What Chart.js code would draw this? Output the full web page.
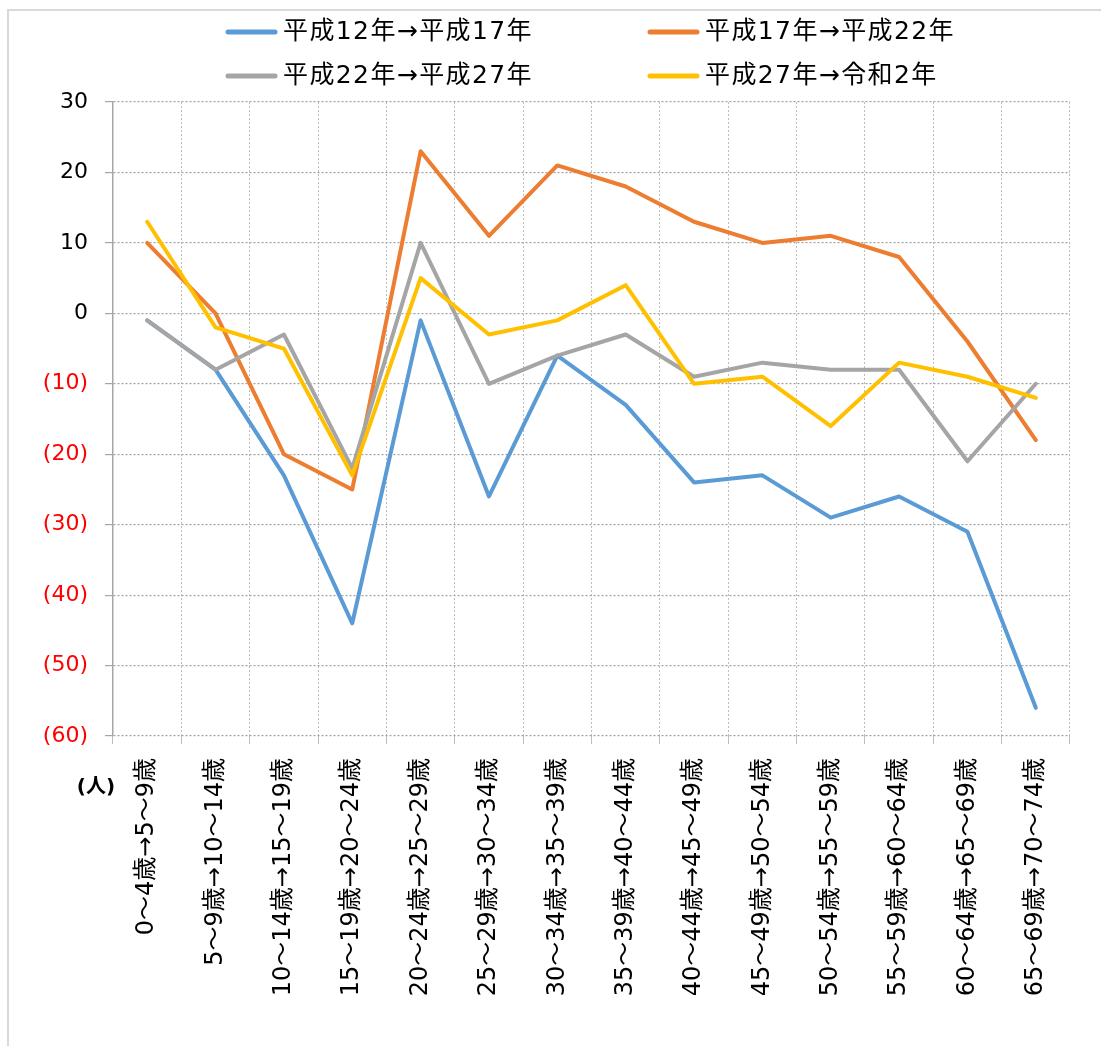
<!DOCTYPE html>
<html>
<head>
<meta charset="utf-8">
<script src="https://cdn.jsdelivr.net/npm/chart.js@4"></script>
<style>
  html, body { margin: 0; padding: 0; background: #fff; }
  #wrap { position: relative; width: 1101px; height: 1046px; overflow: hidden; }
  #frame { position: absolute; left: 7px; top: 9px; width: 1200px; height: 1200px;
           border-left: 2px solid #d9d9d9; border-top: 2px solid #d9d9d9; pointer-events: none; }
  canvas { position: absolute; left: 0; top: 0; }
</style>
</head>
<body>
<div id="wrap">
  <canvas id="myChart" width="1101" height="1046"></canvas>
  <div id="frame"></div>
</div>
<script>
    // age groups (x axis)
    const ageLabels = [
        "0～4歳→5～9歳", "5～9歳→10～14歳", "10～14歳→15～19歳", "15～19歳→20～24歳",
        "20～24歳→25～29歳", "25～29歳→30～34歳", "30～34歳→35～39歳", "35～39歳→40～44歳",
        "40～44歳→45～49歳", "45～49歳→50～54歳", "50～54歳→55～59歳", "55～59歳→60～64歳",
        "60～64歳→65～69歳", "65～69歳→70～74歳"
    ];

    // series names
    const seriesNames = ["平成12年→平成17年", "平成17年→平成22年", "平成22年→平成27年", "平成27年→令和2年"];
    const seriesColors = ["#5B9BD5", "#ED7D31", "#A5A5A5", "#FFC000"];

    // values (人)
    const h12to17 = [-1, -8, -23, -44, -1, -26, -6, -13, -24, -23, -29, -26, -31, -56];
    const h17to22 = [10, 0, -20, -25, 23, 11, 21, 18, 13, 10, 11, 8, -4, -18];
    const h22to27 = [-1, -8, -3, -22, 10, -10, -6, -3, -9, -7, -8, -8, -21, -10];
    const h27toR2 = [13, -2, -5, -23, 5, -3, -1, 4, -10, -9, -16, -7, -9, -12];

    // y axis range
    const yMin = -60, yMax = 30, yStep = 10;
    const unitLabel = "(人)";

    const fontFamily = "'DejaVu Sans', 'Noto Sans CJK JP', sans-serif";
    Chart.defaults.font.family = fontFamily;

    const allSeries = [h12to17, h17to22, h22to27, h27toR2];

    let datasets = allSeries.map((vals, i) => ({
        label: seriesNames[i],
        data: vals,
        borderColor: seriesColors[i],
        backgroundColor: seriesColors[i],
        borderWidth: 4,
        pointRadius: 0,
        tension: 0,
        borderCapStyle: "round",
        borderJoinStyle: "round",
        order: allSeries.length - i   // later series on top, like the original
    }));

    // legend in two columns + unit label
    const extrasPlugin = {
        id: "extras",
        afterDraw(chart) {
            const ctx = chart.ctx;
            const colX = [226, 648];
            const rowY = [32, 76];
            ctx.save();
            chart.data.datasets.forEach((ds, i) => {
                let x = colX[i % 2];
                let y = rowY[Math.floor(i / 2)];
                ctx.strokeStyle = ds.borderColor;
                ctx.lineWidth = 5;
                ctx.lineCap = "round";
                ctx.beginPath();
                ctx.moveTo(x + 2, y);
                ctx.lineTo(x + 49, y);
                ctx.stroke();
                ctx.fillStyle = "#000";
                ctx.font = "25px " + fontFamily;
                ctx.letterSpacing = "1.4px";
                ctx.textAlign = "left";
                ctx.textBaseline = "middle";
                ctx.fillText(ds.label, x + 57, y);
            });
            ctx.letterSpacing = "0px";
            ctx.font = "bold 20px " + fontFamily;
            ctx.textAlign = "center";
            ctx.textBaseline = "middle";
            ctx.fillStyle = "#000";
            ctx.fillText(unitLabel, 96, 788);
            ctx.restore();
        }
    };

    const ctx = document.getElementById("myChart");
    let myChart = new Chart(ctx, {
        type: "line",
        data: {
            labels: ageLabels,
            datasets: datasets
        },
        options: {
            responsive: false,
            animation: false,
            layout: {
                padding: { top: 102, left: 8, right: 31, bottom: 0 }
            },
            plugins: {
                legend: { display: false },
                tooltip: { enabled: false }
            },
            scales: {
                x: {
                    offset: true,
                    grid: {
                        offset: true,
                        color: "#bdbdbd",
                        lineWidth: 1,
                        tickLength: 8
                    },
                    border: { display: false, dash: [2, 2] },
                    ticks: {
                        autoSkip: false,
                        minRotation: 90,
                        maxRotation: 90,
                        padding: 14,
                        color: "#000",
                        font: { size: 24 }
                    },
                    afterFit: (scale) => { scale.height = 310; }
                },
                y: {
                    min: yMin,
                    max: yMax,
                    grid: {
                        color: "#a0a0a0",
                        lineWidth: 1.2,
                        tickLength: 8,
                        tickBorderDash: [],
                        tickColor: "#a6a6a6"
                    },
                    border: { display: true, color: "#a6a6a6", width: 1.5, dash: [2, 2] },
                    ticks: {
                        stepSize: yStep,
                        padding: 17,
                        font: { size: 22 },
                        color: (c) => (c.tick && c.tick.value < 0) ? "#FF0000" : "#000000",
                        callback: (v) => v < 0 ? "(" + (-v) + ")" : String(v)
                    },
                    afterFit: (scale) => { scale.width = 105; }
                }
            }
        },
        plugins: [extrasPlugin]
    });
</script>
</body>
</html>
